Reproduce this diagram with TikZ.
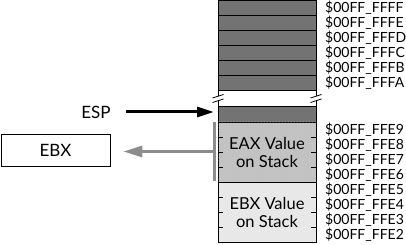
\documentclass[tikz,border=0pt]{standalone}
\usepackage{fontspec}
\setmainfont{Lato}
\usetikzlibrary{arrows.meta,positioning,patterns}

\definecolor{usedgray}{gray}{0.45}
\definecolor{eaxgray}{gray}{0.76}
\definecolor{ebxgray}{gray}{0.91}
\definecolor{popgray}{gray}{0.55}

\begin{document}
\begin{tikzpicture}[x=1pt,y=-1pt,node distance=9pt]
  \tikzstyle{cell} = [draw,line width=0.8pt,minimum width=98pt,minimum height=15pt,inner sep=0pt,outer sep=0pt]
  \tikzstyle{used} = [cell,fill=usedgray]
  \tikzstyle{block} = [cell,minimum height=60pt,align=center,font=\fontsize{16.5}{18}\selectfont]
  \tikzstyle{addr} = [inner sep=0pt,anchor=west,font=\fontsize{14}{14}\selectfont]
  \tikzstyle{addr of} = [addr,right=9pt of #1]
  \tikzstyle{reg} = [font=\fontsize{17}{18}\selectfont]
  \useasboundingbox (0,0) rectangle (406,245);

  % top of the stack region
  \foreach \a [count=\i] in {FFFF,FFFE,FFFD,FFFC,FFFB,FFFA} {
    \node [used] (u\i) at (267,15*\i-7.5) {};
    \node [addr of=u\i] (a\i) {\$00FF\_\a};
  }
  \node [used,minimum height=16pt] (top) at (267,114) {};
  \draw [line width=0.8pt] (u6.south west) -- (top.north west);
  \draw [line width=0.8pt] (u6.south east) -- (top.north east);

  % break marks on the sides
  \coordinate (brk l) at (218,98.5);
  \coordinate (brk r) at (316,98.5);
  \foreach \c in {brk l,brk r} {
    \fill [white,shift={(\c)}] (-5.5,-0.5) -- (5.5,-4) -- (5.5,0.5) -- (-5.5,4) -- cycle;
    \draw [line width=0.8pt,shift={(\c)}] (-5.5,-0.5) -- (5.5,-4) (-5.5,4) -- (5.5,0.5);
  }

  % pushed values
  \node [block,fill=eaxgray,postaction={pattern=dots,pattern color=eaxgray!80!white},below=0pt of top] (eax) {EAX Value\\on Stack};
  \node [block,fill=ebxgray,below=0pt of eax] (ebxval) {EBX Value\\on Stack};
  \foreach \b in {eax,ebxval}
    \foreach \y in {15,30,45} {
      \draw [line width=0.8pt] (\b.north west) ++(0,\y) -- +(5,0);
      \draw [line width=0.8pt] (\b.north east) ++(0,\y) -- +(-5,0);
    }
  \foreach \a [count=\i] in {FFE9,FFE8,FFE7,FFE6,FFE5,FFE4,FFE3,FFE2}
    \node [addr] (b\i) at (325,122+15*\i-7.5) {\$00FF\_\a};

  % registers
  \node [reg] (esp) at (96,112) {ESP};
  \draw [line width=3pt,-{Triangle[length=17pt,width=10pt]},shorten <=12pt,shorten >=4pt]
    (esp.east) -- (esp.east -| top.west);

  \node [reg,draw,line width=0.8pt,minimum width=109pt,minimum height=32pt] (ebx) at (55.5,150) {EBX};
  \coordinate (bar top) at (214.5,122);
  \coordinate (bar bot) at (214.5,181);
  \coordinate (bar mid) at (214.5,151.5);
  \draw [popgray,line width=3pt] (bar top) -- (bar bot);
  \draw [popgray,line width=3pt,-{Triangle[length=19pt,width=11pt]},shorten >=13pt]
    (bar mid) -- (ebx.east |- bar mid);
\end{tikzpicture}
\end{document}
